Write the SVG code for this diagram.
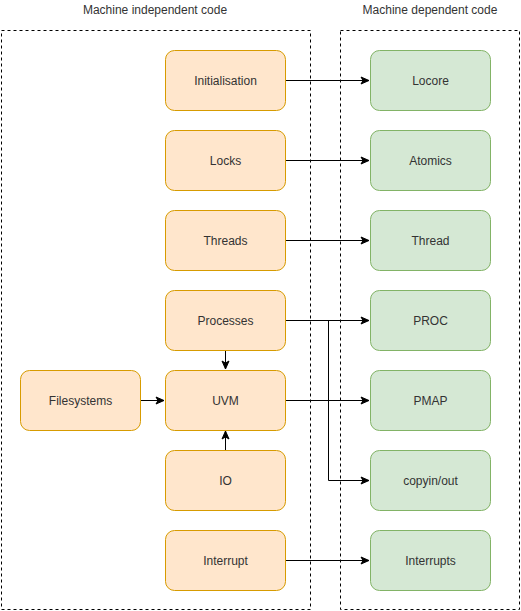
<svg xmlns="http://www.w3.org/2000/svg" width="521" height="611" viewBox="0 0 521 611">
<style>
.mi rect{fill:#ffe6cc;stroke:#d79b00;stroke-width:1}
.md rect{fill:#d5e8d4;stroke:#82b366;stroke-width:1}
text{font-family:"Liberation Sans",Arial,sans-serif;font-size:12px;fill:#333333;text-anchor:middle;dominant-baseline:central}
.frame{fill:none;stroke:#000;stroke-width:1;stroke-dasharray:3 3}
.edges path{fill:none;stroke:#000;stroke-width:1}
</style>
<defs>
<marker id="arr" markerWidth="10" markerHeight="10" refX="9" refY="5" orient="auto" markerUnits="userSpaceOnUse">
<path d="M1,1.5 L9,5 L1,8.5 L3,5 Z" fill="#000" stroke="#000" stroke-width="1"/>
</marker>
</defs>
<rect width="521" height="611" fill="#ffffff"/>
<g id="frames">
<rect class="frame" x="1.5" y="30.5" width="309" height="579"/>
<rect class="frame" x="340.5" y="30.5" width="179" height="579"/>
<text x="155" y="10">Machine independent code</text>
<text x="430" y="10">Machine dependent code</text>
</g>
<g class="edges" id="connectors">
<path d="M285,80.5 H369" marker-end="url(#arr)"/>
<path d="M285,160.5 H369" marker-end="url(#arr)"/>
<path d="M285,240.5 H369" marker-end="url(#arr)"/>
<path d="M285,320.5 H369" marker-end="url(#arr)"/>
<path d="M285,320.5 H328.5 V480.5 H369" marker-end="url(#arr)"/>
<path d="M285,400.5 H369" marker-end="url(#arr)"/>
<path d="M285,560.5 H369" marker-end="url(#arr)"/>
<path d="M140,400.5 H164" marker-end="url(#arr)"/>
<path d="M225.5,350 V369" marker-end="url(#arr)"/>
<path d="M225.5,450 V431" marker-end="url(#arr)"/>
</g>
<g id="initialisation" class="mi"><rect x="165.5" y="50.5" width="120" height="60" rx="9"/><text x="225.5" y="80.5">Initialisation</text></g>
<g id="locks" class="mi"><rect x="165.5" y="130.5" width="120" height="60" rx="9"/><text x="225.5" y="160.5">Locks</text></g>
<g id="threads" class="mi"><rect x="165.5" y="210.5" width="120" height="60" rx="9"/><text x="225.5" y="240.5">Threads</text></g>
<g id="processes" class="mi"><rect x="165.5" y="290.5" width="120" height="60" rx="9"/><text x="225.5" y="320.5">Processes</text></g>
<g id="uvm" class="mi"><rect x="165.5" y="370.5" width="120" height="60" rx="9"/><text x="225.5" y="400.5">UVM</text></g>
<g id="io" class="mi"><rect x="165.5" y="450.5" width="120" height="60" rx="9"/><text x="225.5" y="480.5">IO</text></g>
<g id="interrupt" class="mi"><rect x="165.5" y="530.5" width="120" height="60" rx="9"/><text x="225.5" y="560.5">Interrupt</text></g>
<g id="filesystems" class="mi"><rect x="20.5" y="370.5" width="120" height="60" rx="9"/><text x="80.5" y="400.5">Filesystems</text></g>
<g id="locore" class="md"><rect x="370.5" y="50.5" width="120" height="60" rx="9"/><text x="430.5" y="80.5">Locore</text></g>
<g id="atomics" class="md"><rect x="370.5" y="130.5" width="120" height="60" rx="9"/><text x="430.5" y="160.5">Atomics</text></g>
<g id="thread" class="md"><rect x="370.5" y="210.5" width="120" height="60" rx="9"/><text x="430.5" y="240.5">Thread</text></g>
<g id="proc" class="md"><rect x="370.5" y="290.5" width="120" height="60" rx="9"/><text x="430.5" y="320.5">PROC</text></g>
<g id="pmap" class="md"><rect x="370.5" y="370.5" width="120" height="60" rx="9"/><text x="430.5" y="400.5">PMAP</text></g>
<g id="copyinout" class="md"><rect x="370.5" y="450.5" width="120" height="60" rx="9"/><text x="430.5" y="480.5">copyin/out</text></g>
<g id="interrupts" class="md"><rect x="370.5" y="530.5" width="120" height="60" rx="9"/><text x="430.5" y="560.5">Interrupts</text></g>
</svg>
